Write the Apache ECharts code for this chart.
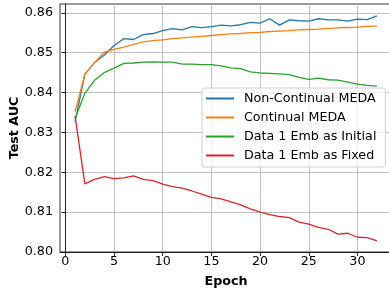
<!DOCTYPE html>
<html>
<head>
<meta charset="utf-8">
<script src="https://cdn.jsdelivr.net/npm/echarts@6/dist/echarts.min.js"></script>
<style>
  html, body { margin: 0; padding: 0; background: #fff; }
</style>
</head>
<body>
<div id="chart" style="width: 389px; height: 292px;"></div>
<script>
// epochs 1..32
var epochs = [];
for (var i = 1; i <= 32; i++) epochs.push(i);

var nonContinual = [0.8327, 0.8446, 0.8475, 0.8494, 0.8518, 0.8535, 0.8533, 0.8545, 0.8548, 0.8555,
  0.8560, 0.8557, 0.8565, 0.8563, 0.8565, 0.8569, 0.8567, 0.8570, 0.8576, 0.8574,
  0.8585, 0.8569, 0.8582, 0.8580, 0.8579, 0.8585, 0.8582, 0.8582, 0.8579, 0.8584,
  0.8583, 0.8592];
var continual = [0.8352, 0.8446, 0.8475, 0.8501, 0.8508, 0.8514, 0.8521, 0.8527, 0.8530, 0.8532,
  0.8535, 0.8537, 0.8539, 0.8541, 0.8543, 0.8545, 0.8547, 0.8548, 0.8550, 0.8551,
  0.8553, 0.8554, 0.8555, 0.8557, 0.8558, 0.8559, 0.8561, 0.8562, 0.8563, 0.8564,
  0.8566, 0.8567];
var embInitial = [0.8335, 0.8398, 0.8431, 0.8450, 0.8461, 0.8473, 0.8474, 0.8476, 0.8477, 0.8476,
  0.8476, 0.8471, 0.8471, 0.8470, 0.8470, 0.8467, 0.8462, 0.8460, 0.8452, 0.8449,
  0.8448, 0.8447, 0.8445, 0.8438, 0.8433, 0.8436, 0.8432, 0.8431, 0.8426, 0.8421,
  0.8418, 0.8416];
var embFixed = [0.8340, 0.8171, 0.8182, 0.8189, 0.8184, 0.8186, 0.8191, 0.8182, 0.8179, 0.8170,
  0.8164, 0.8160, 0.8153, 0.8145, 0.8137, 0.8133, 0.8126, 0.8118, 0.8108, 0.8100,
  0.8094, 0.8089, 0.8086, 0.8075, 0.8070, 0.8062, 0.8057, 0.8045, 0.8047, 0.8037,
  0.8036, 0.8028];

var xTicks = [0, 5, 10, 15, 20, 25, 30];
var yTicks = [0.80, 0.81, 0.82, 0.83, 0.84, 0.85, 0.86];

var seriesNames = ['Non-Continual MEDA', 'Continual MEDA', 'Data 1 Emb as Initial', 'Data 1 Emb as Fixed'];
var seriesData = [nonContinual, continual, embInitial, embFixed];
var colors = ['#1f77b4', '#ff7f0e', '#2ca02c', '#d62728'];

var font = 'DejaVu Sans';

function pairs(ys) {
  return ys.map(function (v, i) { return [epochs[i], v]; });
}

var option = {
  animation: false,
  textStyle: { fontFamily: font },
  grid: {
    left: 60, top: 4, right: -3, bottom: 40,
    outerBoundsMode: 'none',
    containLabel: false,
    show: true, borderColor: '#000', borderWidth: 0.8
  },
  legend: {
    orient: 'vertical',
    left: 202, top: 88,
    padding: [3, 9, 4, 4],
    itemGap: 4,
    itemWidth: 28, itemHeight: 2,
    icon: 'rect',
    backgroundColor: 'rgba(255,255,255,0.8)',
    borderColor: '#d0d0d0', borderWidth: 1, borderRadius: 3,
    textStyle: { fontFamily: font, fontSize: 12.7, color: '#000', lineHeight: 15, padding: [0, 0, 0, 5] },
    data: seriesNames
  },
  xAxis: {
    type: 'value',
    min: -0.55, max: 33.55,
    name: 'Epoch', nameLocation: 'middle', nameGap: 23,
    nameMoveOverlap: false,
    nameTextStyle: { fontFamily: font, fontSize: 12.7, fontWeight: 'bold', color: '#000' },
    axisLine: { lineStyle: { color: '#000', width: 0.8 } },
    axisTick: { show: true, length: 4, lineStyle: { color: '#000', width: 0.8 }, customValues: xTicks },
    axisLabel: { fontFamily: font, fontSize: 12.7, color: '#000', margin: 3, customValues: xTicks },
    splitLine: { show: true, lineStyle: { color: '#b0b0b0', width: 0.8 } }
  },
  yAxis: {
    type: 'value',
    min: 0.80, max: 0.8622,
    name: 'Test AUC', nameLocation: 'middle', nameGap: 39,
    nameMoveOverlap: false,
    nameTextStyle: { fontFamily: font, fontSize: 12.7, fontWeight: 'bold', color: '#000' },
    axisLine: { show: true, lineStyle: { color: '#000', width: 0.8 } },
    axisTick: { show: true, length: 4, lineStyle: { color: '#000', width: 0.8 }, customValues: yTicks },
    axisLabel: {
      fontFamily: font, fontSize: 12.7, color: '#000', margin: 7, customValues: yTicks,
      formatter: function (v) { return v.toFixed(2); }
    },
    splitLine: { show: true, lineStyle: { color: '#b0b0b0', width: 0.8 } }
  },
  series: seriesNames.map(function (name, k) {
    return {
      name: name,
      type: 'line',
      data: pairs(seriesData[k]),
      showSymbol: false,
      symbol: 'none',
      color: colors[k],
      lineStyle: { width: 1.3, color: colors[k] },
      z: 2 + k
    };
  })
};

var chartInstance = echarts.init(document.getElementById('chart'), null, { renderer: 'canvas' });
chartInstance.setOption(option);
</script>
</body>
</html>
